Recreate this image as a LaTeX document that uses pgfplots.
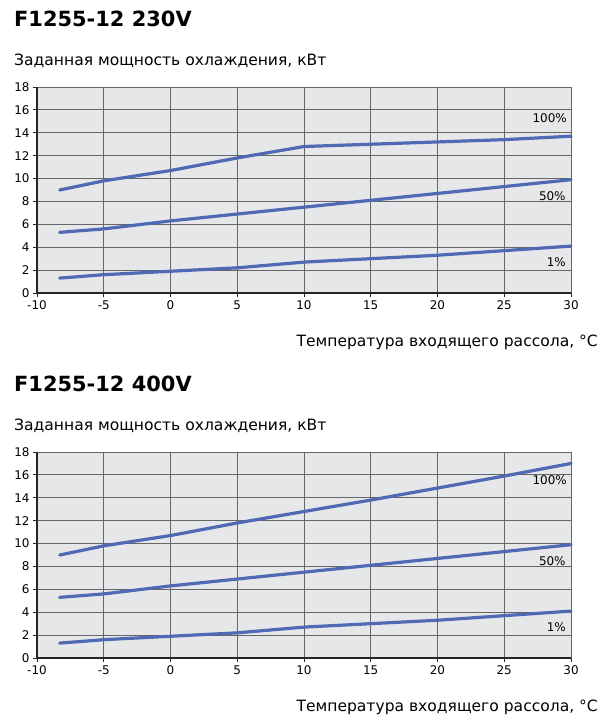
\documentclass[border=0pt]{standalone}
\usepackage{pgfplots}
\pgfplotsset{compat=1.18}
\usepackage{fontspec}
\setmainfont{DejaVu Sans}
\definecolor{bg}{HTML}{E6E7E9}
\definecolor{ln}{HTML}{5069B4}
\pgfplotsset{
 curve/.style={ln, line width=3.2bp, mark=none, line join=round, line cap=round},
 mystyle/.style={
  scale only axis, width=534bp, height=206bp,
  xmin=-10, xmax=30, ymin=0, ymax=18,
  xtick={-10,-5,...,30}, ytick={0,2,...,18},
  axis x line*=bottom, axis y line*=left,
  axis line style={black!85, line width=1.3bp, -},
  tick style={black!85, line width=1bp},
  tick align=outside, major tick length=4bp,
  grid=major, major grid style={black!60, line width=0.9bp},
  axis background/.style={fill=bg},
  tick label style={font=\fontsize{12}{14}\selectfont},
  /pgf/number format/assume math mode=true,
  clip=false,
}}
\newcommand{\lbl}[3]{\node[fill=bg, inner sep=1bp, font=\fontsize{12}{14}\selectfont] at (axis cs:#1,#2) {#3};}
\begin{document}
\begin{tikzpicture}
\path (0,0) rectangle (606bp,-722bp);
% ---------- top chart ----------
\node[anchor=base west, inner sep=0pt, font=\bfseries\fontsize{21}{25}\selectfont] at (14bp,-26bp) {F1255-12 230V};
\node[anchor=base west, inner sep=0pt, font=\fontsize{15.6}{18}\selectfont] at (14bp,-65bp) {Заданная мощность охлаждения, кВт};
\node[anchor=base east, inner sep=0pt, font=\fontsize{15.6}{18}\selectfont] at (598bp,-346bp) {Температура входящего рассола, °C};
\begin{axis}[mystyle, at={(37bp,-293bp)}, anchor=south west]
\addplot[curve] coordinates {(-8.3,9.0) (-5,9.8) (0,10.7) (5,11.8) (10,12.8) (15,13.0) (20,13.2) (25,13.4) (30,13.7)};
\addplot[curve] coordinates {(-8.3,5.3) (-5,5.6) (0,6.3) (5,6.9) (10,7.5) (15,8.1) (20,8.7) (25,9.3) (30,9.9)};
\addplot[curve] coordinates {(-8.3,1.3) (-5,1.6) (0,1.9) (5,2.2) (10,2.7) (15,3.0) (20,3.3) (25,3.7) (30,4.1)};
\lbl{28.4}{15.3}{100\%}
\lbl{28.6}{8.5}{50\%}
\lbl{28.9}{2.7}{1\%}
\end{axis}
% ---------- bottom chart ----------
\node[anchor=base west, inner sep=0pt, font=\bfseries\fontsize{21}{25}\selectfont] at (14bp,-391bp) {F1255-12 400V};
\node[anchor=base west, inner sep=0pt, font=\fontsize{15.6}{18}\selectfont] at (14bp,-430bp) {Заданная мощность охлаждения, кВт};
\node[anchor=base east, inner sep=0pt, font=\fontsize{15.6}{18}\selectfont] at (598bp,-711bp) {Температура входящего рассола, °C};
\begin{axis}[mystyle, at={(37bp,-658bp)}, anchor=south west]
\addplot[curve] coordinates {(-8.3,9.0) (-5,9.8) (0,10.7) (5,11.8) (10,12.8) (15,13.8) (20,14.85) (25,15.9) (30,17.0)};
\addplot[curve] coordinates {(-8.3,5.3) (-5,5.6) (0,6.3) (5,6.9) (10,7.5) (15,8.1) (20,8.7) (25,9.3) (30,9.9)};
\addplot[curve] coordinates {(-8.3,1.3) (-5,1.6) (0,1.9) (5,2.2) (10,2.7) (15,3.0) (20,3.3) (25,3.7) (30,4.1)};
\lbl{28.4}{15.5}{100\%}
\lbl{28.6}{8.5}{50\%}
\lbl{28.9}{2.7}{1\%}
\end{axis}
\end{tikzpicture}
\end{document}
